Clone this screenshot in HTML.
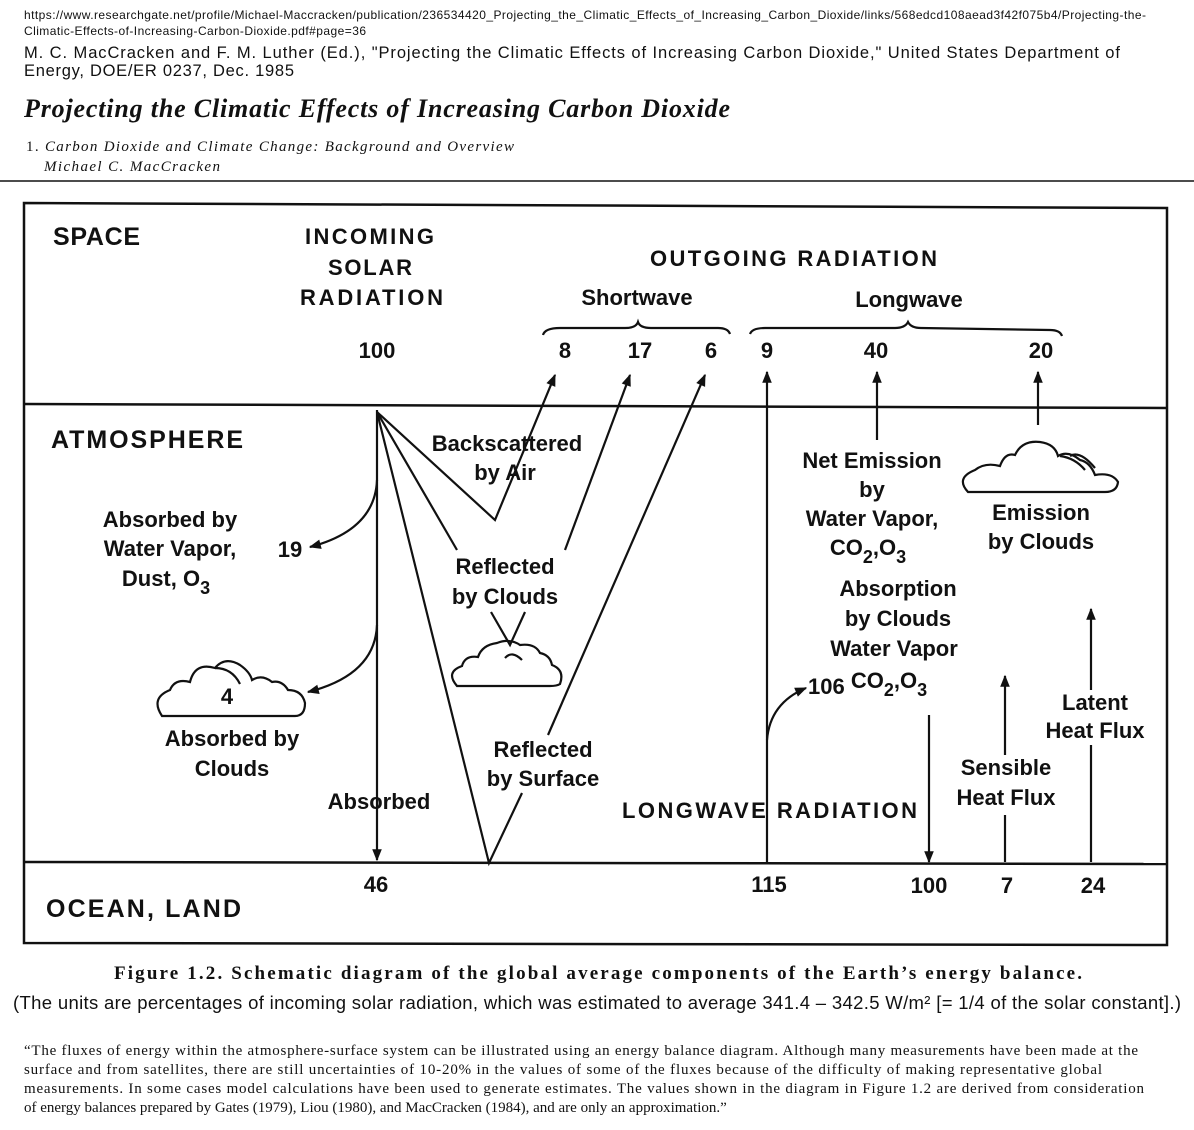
<!DOCTYPE html>
<html><head><meta charset="utf-8"><style>
html,body{margin:0;padding:0;background:#fff;}
svg{display:block}
.s{font-family:"Liberation Sans",sans-serif;font-weight:bold;font-size:22px;fill:#111;}
.c{text-anchor:middle}
</style></head><body>
<svg width="1194" height="1130" viewBox="0 0 1194 1130" xmlns="http://www.w3.org/2000/svg">
<defs>
<marker id="b" viewBox="0 0 10 10" refX="9" refY="5" markerWidth="16" markerHeight="12" markerUnits="userSpaceOnUse" orient="auto"><path d="M0,1 L10,5 L0,9 z" fill="#111"/></marker></defs>
<text x="24" y="19" font-family="Liberation Sans,sans-serif" font-size="12" fill="#111" textLength="1122">https://www.researchgate.net/profile/Michael-Maccracken/publication/236534420_Projecting_the_Climatic_Effects_of_Increasing_Carbon_Dioxide/links/568edcd108aead3f42f075b4/Projecting-the-</text>
<text x="24" y="35" font-family="Liberation Sans,sans-serif" font-size="12" fill="#111" textLength="342">Climatic-Effects-of-Increasing-Carbon-Dioxide.pdf#page=36</text>
<text x="24" y="58" font-family="Liberation Sans,sans-serif" font-size="16.5" fill="#111" textLength="1096">M. C. MacCracken and F. M. Luther (Ed.), "Projecting the Climatic Effects of Increasing Carbon Dioxide," United States Department of</text>
<text x="24" y="76" font-family="Liberation Sans,sans-serif" font-size="16.5" fill="#111" textLength="270">Energy, DOE/ER 0237, Dec. 1985</text>
<text x="24" y="117" font-family="Liberation Serif,serif" font-style="italic" font-weight="bold" font-size="26" fill="#111" textLength="706">Projecting the Climatic Effects of Increasing Carbon Dioxide</text>
<text x="26" y="151" font-family="Liberation Serif,serif" font-size="15" fill="#111" textLength="488">1. <tspan font-style="italic">Carbon Dioxide and Climate Change: Background and Overview</tspan></text>
<text x="44" y="171" font-family="Liberation Serif,serif" font-style="italic" font-size="15" fill="#111" textLength="176">Michael C. MacCracken</text>
<line x1="0" y1="181" x2="1194" y2="181" stroke="#111" stroke-width="1.5"/>

<g stroke="#111" stroke-width="2.5" fill="none">
<path d="M24,203 L1167,208 L1167,945 L24,943 Z"/>
<line x1="24" y1="404" x2="1167" y2="408"/>
<line x1="24" y1="862" x2="1167" y2="864"/>
</g>
<g stroke="#111" stroke-width="2.2" fill="none">
<path d="M543,335 Q545,328 560,328 L625,328 Q636,328 638,322 Q640,328 651,328 L718,328 Q728,328 730,334"/>
<path d="M750,334 Q752,328 765,328 L895,328 Q905,328 908,322 Q911,328 921,328 L1050,330 Q1060,330 1062,336"/>
<line x1="377" y1="410" x2="377" y2="860" marker-end="url(#b)"/>
<path d="M377,412 L495,520 L555,375" marker-end="url(#b)"/>
<path d="M377,412 L457,550"/>
<path d="M565,550 L630,375" marker-end="url(#b)"/>
<path d="M377,412 L489,863 L522,793"/>
<path d="M548,735 L705,375" marker-end="url(#b)"/>
<path d="M377,480 Q375,530 310,547" marker-end="url(#b)"/>
<path d="M377,625 Q375,675 308,692" marker-end="url(#b)"/>
<path d="M491,612 L510,645 L525,612"/>
<line x1="767" y1="862" x2="767" y2="372" marker-end="url(#b)"/>
<path d="M767,740 Q770,703 806,688" marker-end="url(#b)"/>
<line x1="877" y1="440" x2="877" y2="372" marker-end="url(#b)"/>
<line x1="1038" y1="425" x2="1038" y2="372" marker-end="url(#b)"/>
<line x1="929" y1="715" x2="929" y2="862" marker-end="url(#b)"/>
<line x1="1005" y1="862" x2="1005" y2="815"/>
<line x1="1005" y1="755" x2="1005" y2="676" marker-end="url(#b)"/>
<line x1="1091" y1="862" x2="1091" y2="745"/>
<line x1="1091" y1="690" x2="1091" y2="609" marker-end="url(#b)"/>
<path d="M162,716 Q150,698 170,690 Q175,678 190,682 Q195,662 215,668 Q225,656 240,665 Q250,672 252,680 Q262,674 272,682 Q282,680 288,690 Q302,690 305,703 Q305,716 295,716 Z"/>
<path d="M215,668 Q232,668 240,684"/>
<path d="M457,686 Q445,672 462,666 Q465,655 478,657 Q482,645 497,643 Q510,638 520,645 Q535,643 540,653 Q550,655 552,665 Q565,670 560,684 Q557,686 550,686 Z"/>
<path d="M505,658 Q512,650 522,660"/>
<path d="M968,492 Q955,478 975,470 Q985,462 1000,466 Q1005,452 1015,455 Q1022,440 1040,442 Q1055,444 1058,456 Q1068,450 1080,460 Q1090,462 1095,475 Q1112,472 1118,482 Q1117,492 1105,492 Z"/>
<path d="M1060,456 Q1075,458 1085,470 M1070,456 Q1080,450 1095,468"/>
</g>
<g class="s">
<text x="53" y="245" font-size="25" textLength="87">SPACE</text>
<text x="305" y="244" textLength="129">INCOMING</text>
<text x="328" y="275" textLength="84">SOLAR</text>
<text x="300" y="305" textLength="143">RADIATION</text>
<text x="650" y="266" textLength="287">OUTGOING RADIATION</text>
<text x="637" y="305" class="c">Shortwave</text>
<text x="909" y="307" class="c">Longwave</text>
<text x="377" y="358" class="c">100</text>
<text x="565" y="358" class="c">8</text>
<text x="640" y="358" class="c">17</text>
<text x="711" y="358" class="c">6</text>
<text x="767" y="358" class="c">9</text>
<text x="876" y="358" class="c">40</text>
<text x="1041" y="358" class="c">20</text>
<text x="51" y="448" font-size="25" textLength="192">ATMOSPHERE</text>
<text x="507" y="451" class="c">Backscattered</text>
<text x="505" y="480" class="c">by Air</text>
<text x="170" y="527" class="c">Absorbed by</text>
<text x="170" y="556" class="c">Water Vapor,</text>
<text x="166" y="586" class="c">Dust, O<tspan dy="8" font-size="18">3</tspan></text>
<text x="290" y="557" class="c">19</text>
<text x="505" y="574" class="c">Reflected</text>
<text x="505" y="604" class="c">by Clouds</text>
<text x="227" y="704" class="c">4</text>
<text x="232" y="746" class="c">Absorbed by</text>
<text x="232" y="776" class="c">Clouds</text>
<text x="379" y="809" class="c">Absorbed</text>
<text x="543" y="757" class="c">Reflected</text>
<text x="543" y="786" class="c">by Surface</text>
<text x="622" y="818" textLength="295">LONGWAVE RADIATION</text>
<text x="872" y="468" class="c">Net Emission</text>
<text x="872" y="497" class="c">by</text>
<text x="872" y="526" class="c">Water Vapor,</text>
<text x="868" y="555" class="c">CO<tspan dy="8" font-size="18">2</tspan><tspan dy="-8">,O</tspan><tspan dy="8" font-size="18">3</tspan></text>
<text x="898" y="596" class="c">Absorption</text>
<text x="898" y="626" class="c">by Clouds</text>
<text x="894" y="656" class="c">Water Vapor</text>
<text x="808" y="694">106 <tspan dy="-6">CO</tspan><tspan dy="8" font-size="18">2</tspan><tspan dy="-8">,O</tspan><tspan dy="8" font-size="18">3</tspan></text>
<text x="1041" y="520" class="c">Emission</text>
<text x="1041" y="549" class="c">by Clouds</text>
<text x="1095" y="710" class="c">Latent</text>
<text x="1095" y="738" class="c">Heat Flux</text>
<text x="1006" y="775" class="c">Sensible</text>
<text x="1006" y="805" class="c">Heat Flux</text>
<text x="376" y="892" class="c">46</text>
<text x="769" y="892" class="c">115</text>
<text x="929" y="893" class="c">100</text>
<text x="1007" y="893" class="c">7</text>
<text x="1093" y="893" class="c">24</text>
<text x="46" y="917" font-size="25" textLength="195">OCEAN, LAND</text>
</g>
<text x="598" y="979" text-anchor="middle" font-family="Liberation Serif,serif" font-weight="bold" font-size="19" fill="#111" textLength="968">Figure 1.2. Schematic diagram of the global average components of the Earth’s energy balance.</text>
<text x="597" y="1009" text-anchor="middle" font-family="Liberation Sans,sans-serif" font-size="18.5" fill="#111" textLength="1168">(The units are percentages of incoming solar radiation, which was estimated to average 341.4 – 342.5 W/m² [= 1/4 of the solar constant].)</text>
<g font-family="Liberation Serif,serif" font-size="15" fill="#111">
<text x="24" y="1055" textLength="1114">“The fluxes of energy within the atmosphere-surface system can be illustrated using an energy balance diagram. Although many measurements have been made at the</text>
<text x="24" y="1074" textLength="1078">surface and from satellites, there are still uncertainties of 10-20% in the values of some of the fluxes because of the difficulty of making representative global</text>
<text x="24" y="1093" textLength="1120">measurements. In some cases model calculations have been used to generate estimates. The values shown in the diagram in Figure 1.2 are derived from consideration</text>
<text x="24" y="1112">of energy balances prepared by Gates (1979), Liou (1980), and MacCracken (1984), and are only an approximation.”</text>
</g>
</svg>
</body></html>
